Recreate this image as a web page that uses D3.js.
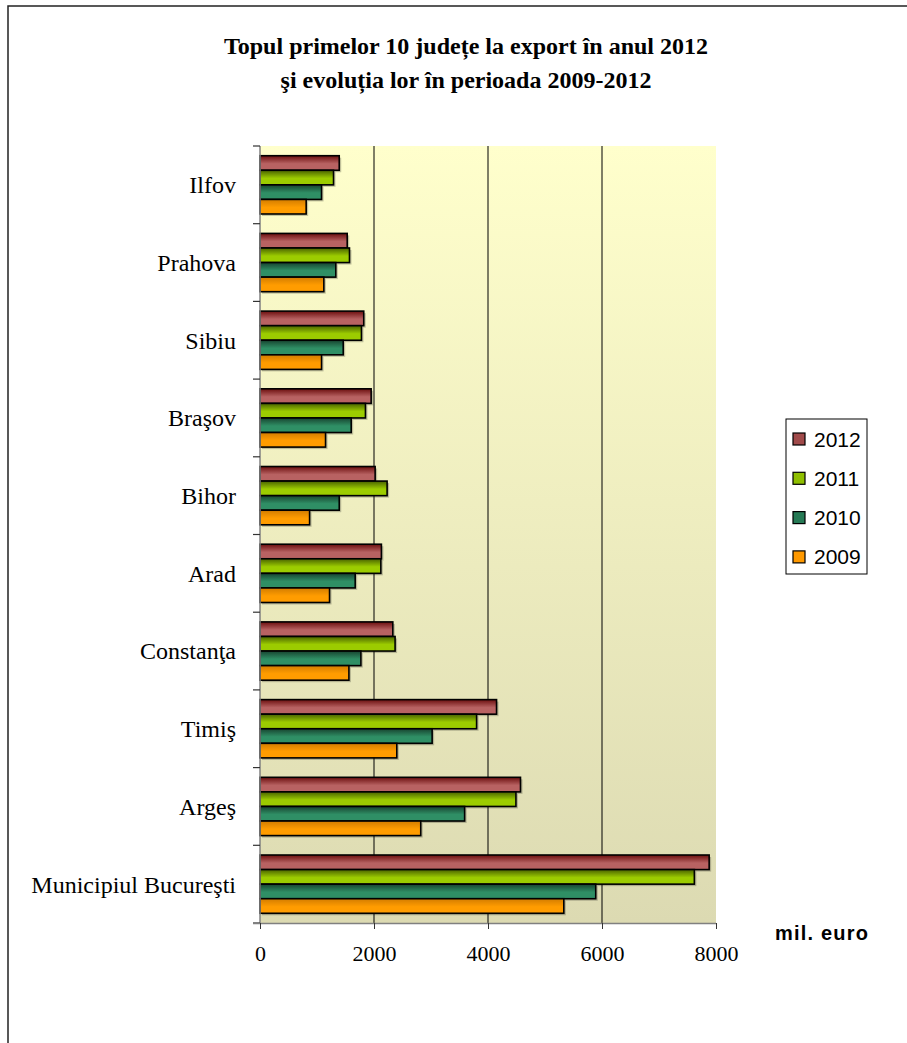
<!DOCTYPE html>
<html>
<head>
<meta charset="utf-8">
<script src="https://cdn.jsdelivr.net/npm/d3@7"></script>
<style>
  body { margin: 0; background: #fff; }
  svg { display: block; }
</style>
</head>
<body>
<div id="chart"></div>
<script>
// data (mil. euro)
const judete = ["Ilfov", "Prahova", "Sibiu", "Braşov", "Bihor", "Arad",
                "Constanţa", "Timiş", "Argeş", "Municipiul Bucureşti"];
const ani = ["2012", "2011", "2010", "2009"];
const v2012 = [1390, 1530, 1820, 1950, 2020, 2130, 2330, 4150, 4570, 7880];
const v2011 = [1290, 1570, 1780, 1850, 2230, 2120, 2370, 3800, 4490, 7620];
const v2010 = [1080, 1330, 1460, 1600, 1390, 1670, 1770, 3020, 3590, 5890];
const v2009 = [810, 1120, 1080, 1150, 870, 1220, 1560, 2400, 2820, 5330];
const xTicks = [0, 2000, 4000, 6000, 8000];
const titleLines = ["Topul primelor 10 județe la export în anul 2012",
                    "şi evoluția lor în perioada 2009-2012"];

const serii = { "2012": v2012, "2011": v2011, "2010": v2010, "2009": v2009 };
const culori = {
  "2012": ["#6b0e0e", "#b86262"],
  "2011": ["#496200", "#9ccc00"],
  "2010": ["#17432f", "#2f8f65"],
  "2009": ["#d27c00", "#ff9c00"]
};
const swatch = { "2012": "#a04a4a", "2011": "#8fbf00", "2010": "#267a55", "2009": "#ff9900" };

const svgWidth = 907;
const svgHeight = 1043;
const plot = { left: 260, right: 716, top: 146, bottom: 923 };
const serif = "'Liberation Serif', 'Times New Roman', serif";
const sans = "'Liberation Sans', Arial, sans-serif";

const svg = d3.select("#chart").append("svg")
    .attr("width", svgWidth).attr("height", svgHeight);

const defs = svg.append("defs");
const bg = defs.append("linearGradient").attr("id", "bg")
    .attr("x1", 0).attr("y1", 0).attr("x2", 0).attr("y2", 1);
bg.append("stop").attr("offset", "0%").attr("stop-color", "#ffffcc");
bg.append("stop").attr("offset", "100%").attr("stop-color", "#dcdab2");

ani.forEach(a => {
  const g = defs.append("linearGradient").attr("id", "g" + a)
      .attr("x1", 0).attr("y1", 0).attr("x2", 0).attr("y2", 1);
  g.append("stop").attr("offset", "0%").attr("stop-color", culori[a][0]);
  g.append("stop").attr("offset", "55%").attr("stop-color", culori[a][1]);
  g.append("stop").attr("offset", "100%").attr("stop-color", culori[a][1]);
});

// outer frame (only top and left edges fall inside the picture)
svg.append("rect")
    .attr("x", 8).attr("y", 6).attr("width", 1000).attr("height", 1200)
    .attr("fill", "none").attr("stroke", "#222").attr("stroke-width", 1.5);

// title
svg.append("g").selectAll("text")
    .data(titleLines)
    .enter().append("text")
    .attr("x", 466)
    .attr("y", (d, i) => 54 + i * 34)
    .attr("text-anchor", "middle")
    .style("font-family", serif)
    .style("font-weight", "bold")
    .style("font-size", "24px")
    .text(d => d);

// scales
const x = d3.scaleLinear().domain([0, 8000]).range([plot.left, plot.right]);
const y = d3.scaleBand().domain(judete).range([plot.top, plot.bottom])
    .paddingInner(0.25).paddingOuter(0.125);
const yInner = d3.scaleBand().domain(ani).range([0, y.bandwidth()]);

// plot background
svg.append("rect")
    .attr("x", plot.left).attr("y", plot.top)
    .attr("width", plot.right - plot.left).attr("height", plot.bottom - plot.top)
    .attr("fill", "url(#bg)");

// gridlines
svg.append("g").selectAll("line")
    .data(xTicks.filter(t => t > 0 && t < 8000))
    .enter().append("line")
    .attr("x1", d => x(d)).attr("x2", d => x(d))
    .attr("y1", plot.top).attr("y2", plot.bottom)
    .attr("stroke", "#000").attr("stroke-width", 1);

// bars
const grup = svg.append("g").selectAll("g")
    .data(judete)
    .enter().append("g")
    .attr("transform", d => `translate(0, ${y(d)})`);

grup.selectAll("rect.umbra")
    .data((d, i) => ani.map(a => ({ an: a, val: serii[a][i] })))
    .enter().append("rect")
    .attr("class", "umbra")
    .attr("x", x(0) + 2)
    .attr("y", d => yInner(d.an) + 2)
    .attr("width", d => x(d.val) - x(0))
    .attr("height", yInner.bandwidth())
    .attr("fill", "#000").attr("opacity", 0.22);

grup.selectAll("rect.bara")
    .data((d, i) => ani.map(a => ({ an: a, val: serii[a][i] })))
    .enter().append("rect")
    .attr("class", "bara")
    .attr("x", x(0))
    .attr("y", d => yInner(d.an))
    .attr("width", d => x(d.val) - x(0))
    .attr("height", yInner.bandwidth())
    .attr("fill", d => `url(#g${d.an})`)
    .attr("stroke", "#000").attr("stroke-width", 1.6);

// left axis with ticks on category boundaries
svg.append("line")
    .attr("x1", plot.left).attr("x2", plot.left)
    .attr("y1", plot.top).attr("y2", plot.bottom)
    .attr("stroke", "#808080").attr("stroke-width", 1.5);
const bounds = judete.map(d => y(d) - y.step() * y.paddingInner() / 2)
    .concat([plot.bottom]);
svg.append("g").selectAll("line")
    .data(bounds)
    .enter().append("line")
    .attr("x1", plot.left - 7).attr("x2", plot.left)
    .attr("y1", d => d).attr("y2", d => d)
    .attr("stroke", "#333").attr("stroke-width", 1.2);

// category labels
svg.append("g").selectAll("text")
    .data(judete)
    .enter().append("text")
    .attr("x", 236)
    .attr("y", d => y(d) + y.bandwidth() / 2)
    .attr("dy", "0.35em")
    .attr("text-anchor", "end")
    .style("font-family", serif)
    .style("font-size", "24px")
    .text(d => d);

// bottom axis
const xAxis = svg.append("g")
    .attr("transform", `translate(0, ${plot.bottom})`)
    .call(d3.axisBottom(x).tickValues(xTicks).tickFormat(d3.format("d"))
        .tickSize(6).tickPadding(16));
xAxis.select(".domain").attr("stroke", "#808080").attr("stroke-width", 1.5)
    .attr("d", `M${plot.left - 7},0.5H${plot.right}`);
xAxis.selectAll(".tick line").attr("stroke", "#333");
xAxis.selectAll(".tick text")
    .style("font-family", serif)
    .style("font-size", "22px")
    .attr("fill", "#000");

svg.append("text")
    .attr("x", 775).attr("y", 940)
    .style("font-family", sans)
    .style("font-weight", "bold")
    .style("font-size", "20px")
    .style("letter-spacing", "1.2px")
    .text("mil. euro");

// legend
const leg = svg.append("g");
leg.append("rect")
    .attr("x", 786).attr("y", 419).attr("width", 81).attr("height", 155)
    .attr("fill", "#fff").attr("stroke", "#000").attr("stroke-width", 1);
const item = leg.selectAll("g.item")
    .data(ani)
    .enter().append("g")
    .attr("class", "item")
    .attr("transform", (d, i) => `translate(793, ${439 + i * 39.3})`);
item.append("rect")
    .attr("x", 0).attr("y", -6).attr("width", 12).attr("height", 12)
    .attr("fill", d => swatch[d]).attr("stroke", "#000").attr("stroke-width", 1.2);
item.append("text")
    .attr("x", 21).attr("y", 0).attr("dy", "0.36em")
    .style("font-family", sans)
    .style("font-size", "21px")
    .text(d => d);
</script>
</body>
</html>
